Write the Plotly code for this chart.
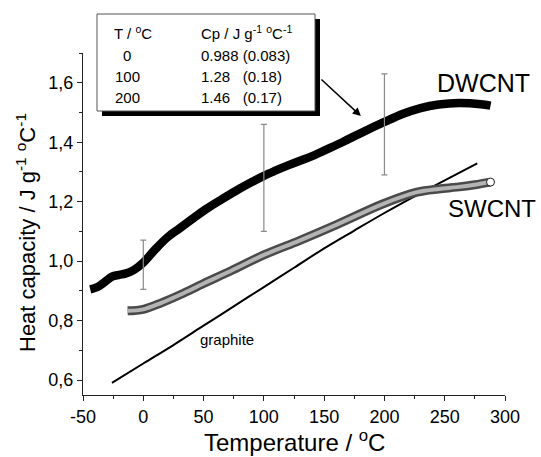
import plotly.graph_objects as go

# ---------------- data ----------------
dw_T = [-44, -38, -32, -26, -20, -15, -8, 0, 10, 20, 30, 40, 52, 65, 77, 90, 100, 110, 120, 130, 140, 150, 165, 180, 200, 215, 230, 245, 262, 280, 288]
dw_cp = [0.905, 0.913, 0.93, 0.948, 0.954, 0.958, 0.97, 0.995, 1.04, 1.08, 1.11, 1.14, 1.175, 1.208, 1.237, 1.266, 1.287, 1.305, 1.322, 1.338, 1.353, 1.372, 1.4, 1.43, 1.468, 1.495, 1.515, 1.527, 1.532, 1.528, 1.523]

sw_T = [-13, 0, 15, 31, 50, 72, 100, 130, 160, 199, 227, 245, 260, 275, 288]
sw_cp = [0.833, 0.838, 0.86, 0.888, 0.925, 0.966, 1.021, 1.07, 1.122, 1.193, 1.232, 1.243, 1.249, 1.257, 1.266]

gr_T = [-26, 0, 25, 50, 75, 100, 125, 150, 175, 200, 225, 250, 277]
gr_cp = [0.591, 0.656, 0.718, 0.783, 0.848, 0.913, 0.978, 1.043, 1.103, 1.162, 1.218, 1.272, 1.329]

tab_T = [0, 100, 200]
tab_cp = [0.988, 1.28, 1.46]
tab_err = [0.083, 0.18, 0.17]
tab_txt = ["0.988 (0.083)", "1.28&nbsp;&nbsp;&nbsp;(0.18)", "1.46&nbsp;&nbsp;&nbsp;(0.17)"]

x_ticks = [-50, 0, 50, 100, 150, 200, 250, 300]
x_labels = ["-50", "0", "50", "100", "150", "200", "250", "300"]
y_ticks = [0.6, 0.8, 1.0, 1.2, 1.4, 1.6]
y_labels = ["0,6", "0,8", "1,0", "1,2", "1,4", "1,6"]

# ---------------- layout geometry ----------------
W, H = 541, 457
L, R, T, B = 83, 36, 53, 62
PW, PH = W - L - R, H - T - B


def px(xp):
    return (xp - L) / PW


def py(yp):
    return (H - B - yp) / PH


FONT = "Liberation Sans, Arial, sans-serif"
AX = "#222222"

fig = go.Figure()

# graphite
fig.add_trace(go.Scatter(x=gr_T, y=gr_cp, mode="lines",
                         line=dict(color="black", width=2, shape="spline"), hoverinfo="skip"))
# SWCNT (ring-like band)
fig.add_trace(go.Scatter(x=sw_T, y=sw_cp, mode="lines",
                         line=dict(color="#4a4a4a", width=9, shape="spline"), hoverinfo="skip"))
fig.add_trace(go.Scatter(x=sw_T, y=sw_cp, mode="lines",
                         line=dict(color="#b4b4b4", width=4, shape="spline"), hoverinfo="skip"))
fig.add_trace(go.Scatter(x=sw_T[-1:], y=sw_cp[-1:], mode="markers",
                         marker=dict(symbol="circle", size=8, color="white",
                                     line=dict(color="#222", width=1)), hoverinfo="skip"))
# DWCNT
fig.add_trace(go.Scatter(x=dw_T, y=dw_cp, mode="lines",
                         line=dict(color="black", width=8.5, shape="spline"), hoverinfo="skip"))
# error bars
fig.add_trace(go.Scatter(x=tab_T, y=tab_cp, mode="markers",
                         marker=dict(size=1, color="rgba(0,0,0,0)"),
                         error_y=dict(type="data", array=tab_err, color="#8a8a8a",
                                      thickness=1.2, width=3),
                         hoverinfo="skip"))

ann = []
# axis titles
ann.append(dict(x=0.5, y=py(458), xref="paper", yref="paper",
                text="Temperature / <sup>o</sup>C", showarrow=False,
                font=dict(size=24, color="black", family=FONT),
                xanchor="center", yanchor="bottom"))
ann.append(dict(x=px(26), y=py(233), xref="paper", yref="paper",
                text="Heat capacity / J g<sup>-1</sup> <sup>o</sup>C<sup>-1</sup>",
                showarrow=False, textangle=-90,
                font=dict(size=22, color="black", family=FONT),
                xanchor="center", yanchor="middle"))
# curve labels
ann.append(dict(x=px(483), y=py(83), xref="paper", yref="paper", text="DWCNT",
                showarrow=False, font=dict(size=25, color="black", family=FONT),
                xanchor="center", yanchor="middle"))
ann.append(dict(x=px(538), y=py(208), xref="paper", yref="paper", text="SWCNT",
                showarrow=False, font=dict(size=24, color="black", family=FONT),
                xanchor="right", yanchor="middle"))
ann.append(dict(x=px(227), y=py(339), xref="paper", yref="paper", text="graphite",
                showarrow=False, font=dict(size=15, color="black", family=FONT),
                xanchor="center", yanchor="middle"))

# table
tf = dict(size=15, color="black", family=FONT)
ann.append(dict(x=px(112), y=py(33), xref="paper", yref="paper",
                text="T / <sup>o</sup>C", showarrow=False, font=tf,
                xanchor="left", yanchor="middle"))
ann.append(dict(x=px(199), y=py(33), xref="paper", yref="paper",
                text="Cp / J g<sup>-1</sup> <sup>o</sup>C<sup>-1</sup>", showarrow=False, font=tf,
                xanchor="left", yanchor="middle"))
row_y = [55, 76, 97]
for i in range(len(tab_T)):
    ann.append(dict(x=px(127), y=py(row_y[i]), xref="paper", yref="paper",
                    text=str(tab_T[i]), showarrow=False, font=tf,
                    xanchor="center", yanchor="middle"))
    ann.append(dict(x=px(199), y=py(row_y[i]), xref="paper", yref="paper",
                    text=tab_txt[i], showarrow=False, font=tf,
                    xanchor="left", yanchor="middle"))

# arrow from table to DWCNT curve
ann.append(dict(x=180.5, y=1.488, xref="x", yref="y", text="",
                showarrow=True, ax=-41, ay=-38, arrowhead=2, arrowsize=1.1,
                arrowwidth=1.5, arrowcolor="black"))

shapes = [
    # shadow
    dict(type="rect", xref="paper", yref="paper",
         x0=px(102), x1=px(320), y0=py(116), y1=py(19),
         fillcolor="black", line=dict(width=0), layer="above"),
    # box
    dict(type="rect", xref="paper", yref="paper",
         x0=px(97), x1=px(315), y0=py(111), y1=py(14),
         fillcolor="white", line=dict(color="#555", width=1), layer="above"),
]

fig.update_layout(
    width=W, height=H,
    margin=dict(l=L, r=R, t=T, b=B, autoexpand=False),
    paper_bgcolor="white", plot_bgcolor="white",
    showlegend=False,
    font=dict(family=FONT, color="black"),
    annotations=ann, shapes=shapes,
    xaxis=dict(range=[-50, 300], showline=True, linecolor=AX, linewidth=1,
               ticks="outside", ticklen=5, tickcolor=AX, tickwidth=1,
               tickmode="array", tickvals=x_ticks, ticktext=x_labels,
               tickfont=dict(size=18, color="black", family=FONT),
               showgrid=False, zeroline=False, automargin=False,
               minor=dict(ticks="outside", ticklen=3, tickcolor=AX,
                          tickmode="linear", tick0=-50, dtick=25, showgrid=False)),
    yaxis=dict(range=[0.55, 1.7], showline=True, linecolor=AX, linewidth=1,
               ticks="outside", ticklen=5, tickcolor=AX, tickwidth=1,
               tickmode="array", tickvals=y_ticks, ticktext=y_labels,
               tickfont=dict(size=18, color="black", family=FONT),
               showgrid=False, zeroline=False, automargin=False,
               minor=dict(ticks="outside", ticklen=3, tickcolor=AX,
                          tickmode="linear", tick0=0.5, dtick=0.1, showgrid=False)),
)

fig.write_html("out.html",
               config={"displayModeBar": False},
               post_script="document.body.style.margin='0';document.body.style.padding='0';document.documentElement.style.overflow='hidden';")
